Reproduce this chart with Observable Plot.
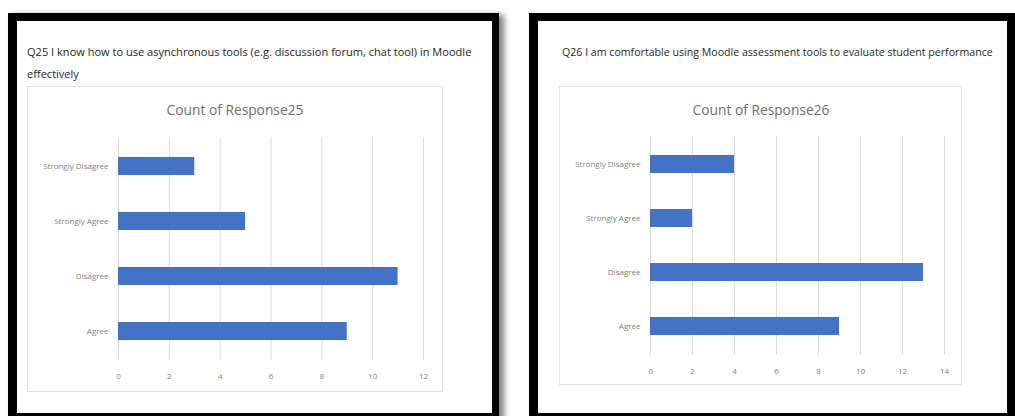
<!DOCTYPE html>
<html><head><meta charset="utf-8">
<script src="https://cdn.jsdelivr.net/npm/d3@7"></script>
<script src="https://cdn.jsdelivr.net/npm/@observablehq/plot@0.6"></script>
<style>
html,body{margin:0;padding:0;background:#fff;width:1015px;height:416px;overflow:hidden;}
body{position:relative;font-family:"Open Sans",sans-serif;}
.panel{position:absolute;box-sizing:border-box;border-style:solid;border-color:#000;background:#fff;}
.q{position:absolute;color:#262626;white-space:nowrap;line-height:1;transform:translateY(-50%);}
.box{position:absolute;box-sizing:border-box;border:1px solid #e3e3e3;background:#fff;}
.ct{position:absolute;color:#6e6e6e;white-space:nowrap;line-height:1;transform:translate(-50%,-50%);}
.chart{position:absolute;}
.chart svg{display:block;}
</style></head><body>
<div class="panel" id="p1"></div>
<div class="panel" id="p2"></div>
<script>
// ---- data ----
const categories = ["Strongly Disagree", "Strongly Agree", "Disagree", "Agree"];
const counts25 = [3, 5, 11, 9];
const counts26 = [4, 2, 13, 9];
const ticks25 = [0, 2, 4, 6, 8, 10, 12];
const ticks26 = [0, 2, 4, 6, 8, 10, 12, 14];
const question25Lines = ["Q25 I know how to use asynchronous tools (e.g. discussion forum, chat tool) in Moodle", "effectively"];
const question26Lines = ["Q26 I am comfortable using Moodle assessment tools to evaluate student performance"];
const chartTitle25 = "Count of Response25";
const chartTitle26 = "Count of Response26";

// ---- helpers ----
const FONT = '"Open Sans"';
const cvs = document.createElement("canvas").getContext("2d");
function fitSize(text, target) {
  cvs.font = `100px ${FONT}`;
  const w = cvs.measureText(text).width;
  return 100 * target / w;
}
function addText(cls, text, left, top, size) {
  const d = document.createElement("div");
  d.className = cls;
  d.textContent = text;
  d.style.left = left + "px";
  d.style.top = top + "px";
  d.style.fontSize = size + "px";
  d.style.fontFamily = FONT;
  document.body.appendChild(d);
  return d;
}
function place(el, l, t, w, h) {
  Object.assign(el.style, {left: l + "px", top: t + "px", width: w + "px", height: h + "px"});
}

// panels
const p1 = document.getElementById("p1");
place(p1, 8, 13, 491, 408);
p1.style.borderWidth = "8px 7px 8px 9px";
p1.style.boxShadow = "5px 2px 6px rgba(0,0,0,0.5)";
const p2 = document.getElementById("p2");
place(p2, 529, 13, 486, 408);
p2.style.borderWidth = "8px 8px 8px 9px";

// chart boxes
const b1 = document.createElement("div"); b1.className = "box"; document.body.appendChild(b1);
place(b1, 27, 86, 416, 306);
const b2 = document.createElement("div"); b2.className = "box"; document.body.appendChild(b2);
place(b2, 559, 86, 403, 299);

// question titles
const qs = fitSize(question25Lines[0], 445);
addText("q", question25Lines[0], 27, 52, qs);
addText("q", question25Lines[1], 27, 74, qs);
const qs2 = fitSize(question26Lines[0], 431);
addText("q", question26Lines[0], 562, 52, qs2);

// chart titles
const cs = fitSize(chartTitle25, 137);
addText("ct", chartTitle25, 235, 110, cs);
addText("ct", chartTitle26, 761, 110, cs);

function barChart(counts, ticks, opts) {
  const data = categories.map((c, i) => ({category: c, count: counts[i]}));
  return Plot.plot({
    width: opts.width,
    height: opts.height,
    marginLeft: 91,
    marginRight: opts.marginRight,
    marginTop: opts.marginTop,
    marginBottom: opts.marginBottom,
    style: {fontFamily: FONT, fontSize: "8px", color: "#808080", background: "transparent", overflow: "visible"},
    x: {domain: [ticks[0], ticks[ticks.length - 1]], ticks: ticks, tickSize: 0, tickPadding: 13, label: null},
    y: {domain: categories, paddingInner: opts.pi, paddingOuter: 0.34, tickSize: 0, tickPadding: 10, label: null},
    marks: [
      Plot.gridX(ticks, {stroke: "#dcdcdc", strokeOpacity: 1, strokeWidth: 1}),
      Plot.barX(data, {x: "count", y: "category", fill: "#4472c4"})
    ]
  });
}

const c1 = document.createElement("div"); c1.className = "chart"; document.body.appendChild(c1);
place(c1, 27, 125, 416, 267);
c1.appendChild(barChart(counts25, ticks25, {width: 416, height: 267, marginRight: 20, marginTop: 12, marginBottom: 32, pi: 0.68}));

const c2 = document.createElement("div"); c2.className = "chart"; document.body.appendChild(c2);
place(c2, 559, 125, 403, 260);
c2.appendChild(barChart(counts26, ticks26, {width: 403, height: 260, marginRight: 18, marginTop: 11, marginBottom: 30, pi: 0.66}));
</script>
</body></html>
